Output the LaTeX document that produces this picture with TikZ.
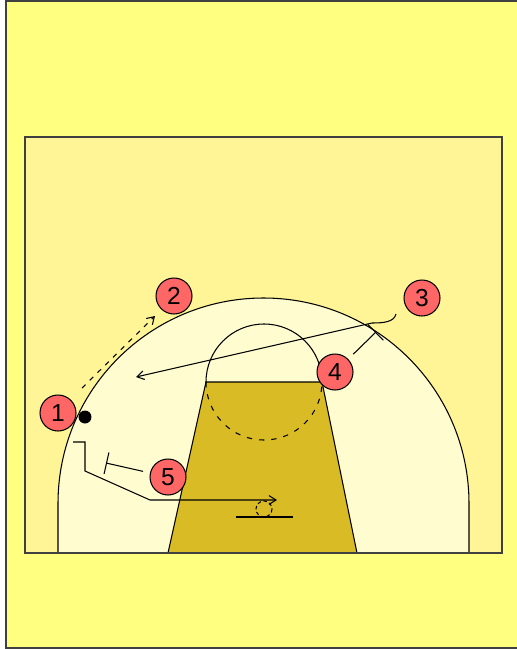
\documentclass[tikz,border=0pt]{standalone}
\usepackage{fontspec}
\setsansfont{Liberation Sans}
\usetikzlibrary{arrows.meta}
\definecolor{outeryellow}{RGB}{255,255,128}
\definecolor{courtyellow}{RGB}{255,245,150}
\definecolor{arcyellow}{RGB}{255,253,208}
\definecolor{keygold}{RGB}{217,187,38}
\definecolor{playerred}{RGB}{255,102,102}

\begin{document}
\begin{tikzpicture}[x=0.02cm, y=-0.02cm,
    every node/.style={font=\sffamily},
    court/.style={line width=0.6pt},
    border/.style={line width=1.1pt, draw=black!75},
    player/.style={circle, draw, line width=0.6pt, fill=playerred, minimum size=0.72cm, inner sep=0pt, font=\sffamily\fontsize{14}{14}\selectfont},
    move/.style={line width=0.6pt, -{Straight Barb[length=4pt,width=5pt]}},
    pass/.style={move, dash pattern=on 2.8pt off 3.4pt},
    screen/.style={line width=0.6pt, -{Bar[width=0.44cm]}, shorten <=4pt}
]
\useasboundingbox (0,0) rectangle (517,649);
\fill[white] (0,0) rectangle (517,649);
\clip (0,0) rectangle (517,649);
\filldraw[border, fill=outeryellow] (6,1) rectangle (540,648);
\fill[courtyellow] (25,137) rectangle (502,553);
% three point line and key
\filldraw[court, fill=arcyellow] (58,553) -- (58,503.5) arc[start angle=180, end angle=360, radius=205.5] -- (469,553);
\filldraw[court, fill=keygold] (168,553) -- (206,382) -- (322,382) -- (357,553);
\draw[court] (206,382) arc[start angle=180, end angle=360, radius=58];
\draw[court, dash pattern=on 3pt off 4pt] (206,382) arc[start angle=180, end angle=0, radius=58];
\draw[border] (25,137) rectangle (502,553);
\draw[line width=1pt] (236,517) -- (293,517);
\draw[court, dash pattern=on 2pt off 1.5pt] (264,509) circle[radius=8];

\coordinate (passfrom) at (82,388);
\coordinate (passto) at (155,316);
\coordinate (cut3from) at (396,314);
\coordinate (cut3bend) at (372,323);
\coordinate (cut3to) at (136,377);
\coordinate (cut1from) at (73,442);
\coordinate (cut1to) at (277,500);
\coordinate (scr4) at (376,332);
\coordinate (scr5) at (106,463);

\node[player] (p1) at (58,413) {1};
\node[player] (p2) at (174,296) {2};
\node[player] (p3) at (422,298) {3};
\node[player] (p4) at (335,372) {4};
\node[player] (p5) at (168,477) {5};
\node[circle, fill=black, inner sep=0pt, minimum size=0.26cm] (ball) at (85,417) {};

\draw[pass] (passfrom) -- (passto);
\draw[move] (cut3from) .. controls (394,322) and (384,323) .. (cut3bend) -- (cut3to);
\draw[move] (cut1from) -- (85,442) -- (85,471) -- (150,500) -- (cut1to);
\draw[screen] (p4) -- (scr4);
\draw[screen] (p5) -- (scr5);
\end{tikzpicture}
\end{document}
